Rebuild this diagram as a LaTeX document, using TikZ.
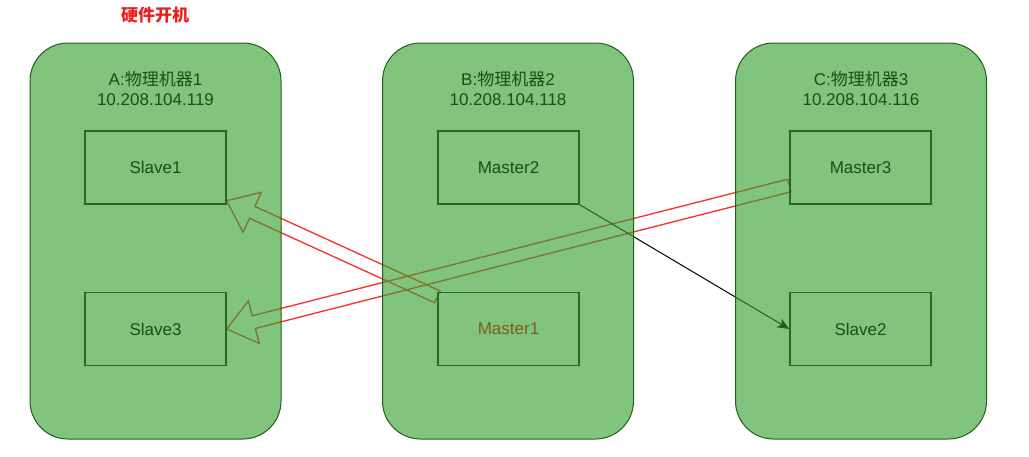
\documentclass[tikz,border=0pt]{standalone}
\usepackage{fontspec}
\setmainfont{Liberation Sans}
\newfontfamily\cjk{Noto Sans CJK SC}
\usetikzlibrary{arrows.meta,calc}
\pgfdeclarelayer{back}
\pgfsetlayers{back,main}

\definecolor{hostfill}{RGB}{50,160,45}
\definecolor{hostline}{RGB}{35,95,20}
\definecolor{boxline}{RGB}{40,105,30}
\definecolor{labelgreen}{RGB}{25,80,20}
\definecolor{masterbrown}{RGB}{128,92,25}
\definecolor{flowred}{RGB}{250,45,40}
\definecolor{titlered}{RGB}{235,30,30}

\newcommand{\hollowarrow}[2]{%
  \path #1 coordinate (ha tail) #2 coordinate (ha tip);
  \coordinate (ha neck) at ($(ha tip)!28pt!(ha tail)$);
  \draw[blockarrow] ($(ha tail)!6.5pt!90:(ha tip)$) -- ($(ha neck)!6.5pt!-90:(ha tail)$)
    -- ($(ha neck)!22pt!-90:(ha tail)$) -- (ha tip) -- ($(ha neck)!22pt!90:(ha tail)$)
    -- ($(ha neck)!6.5pt!90:(ha tail)$) -- ($(ha tail)!6.5pt!-90:(ha tip)$) -- cycle;}

\begin{document}
\begin{tikzpicture}[x=1pt,y=-1pt,>={Stealth[length=12pt,width=10pt,inset=3pt]},
  font=\fontsize{17}{20}\selectfont,
  host/.style={draw=hostline,fill=hostfill,fill opacity=0.62,line width=1pt,rounded corners=38pt,minimum width=251pt,minimum height=396pt,inner sep=0pt},
  hosttext/.style={align=center,text=labelgreen},
  role/.style={draw=boxline,line width=1.4pt,minimum width=141pt,minimum height=73pt,inner sep=0pt,text=labelgreen},
  blockarrow/.style={draw=flowred,line width=1.3pt}]

\useasboundingbox (0,0) rectangle (1029,456);

\node[host] (hostA) at (155.5,241) {};
\node[host] (hostB) at (508,241) {};
\node[host] (hostC) at (861,241) {};

\node[text=titlered,font=\cjk\bfseries\fontsize{17}{20}\selectfont] (title) at (155,15) {硬件开机};

\node[hosttext] (nameA) at (155.5,88) {A:{\cjk 物理机器}1\\10.208.104.119};
\node[hosttext] (nameB) at (508,88) {B:{\cjk 物理机器}2\\10.208.104.118};
\node[hosttext] (nameC) at (861,88) {C:{\cjk 物理机器}3\\10.208.104.116};

\node[role] (slaveone) at (155.5,167.5) {Slave1};
\node[role] (slavethree) at (155.5,329) {Slave3};
\node[role] (mastertwo) at (508.5,167.5) {Master2};
\node[role,text=masterbrown] (masterone) at (508.5,329) {Master1};
\node[role] (masterthree) at (860.5,167.5) {Master3};
\node[role] (slavetwo) at (860.5,329) {Slave2};

\begin{pgfonlayer}{back}
\hollowarrow{($(masterone.north west)+(0,5)$)}{($(slaveone.south east)+(0,-4)$)}
\hollowarrow{($(masterthree.west)+(0,18)$)}{(slavethree.east)}
\draw[->,line width=1pt] (mastertwo.south east) -- (slavetwo.west);
\end{pgfonlayer}

\end{tikzpicture}
\end{document}
